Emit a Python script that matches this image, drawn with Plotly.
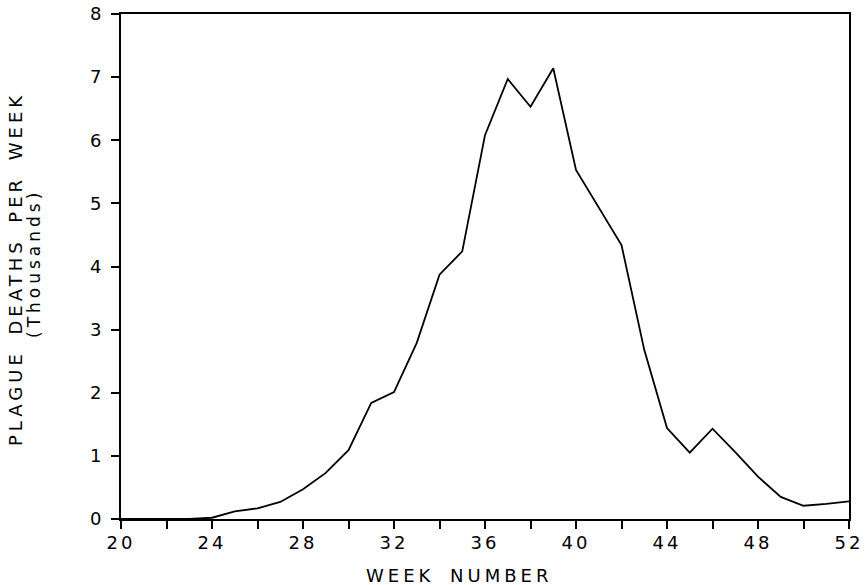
import plotly.graph_objects as go

weeks = list(range(20, 53))
deaths = [0.0, 0.0, 0.0, 0.0, 0.02, 0.12, 0.17, 0.27, 0.47, 0.73, 1.09,
          1.84, 2.01, 2.79, 3.87, 4.24, 6.08, 6.97, 6.53, 7.14, 5.53,
          4.93, 4.34, 2.68, 1.44, 1.05, 1.43, 1.06, 0.67, 0.35, 0.21,
          0.24, 0.28]

x_ticks = [20, 24, 28, 32, 36, 40, 44, 48, 52]
y_ticks = [0, 1, 2, 3, 4, 5, 6, 7, 8]

FONT = "DejaVu Sans"

fig = go.Figure()
fig.add_trace(go.Scatter(x=weeks, y=deaths, mode="lines",
                         line=dict(color="black", width=1.8), showlegend=False))

axis_common = dict(showgrid=False, zeroline=False, showline=True, linecolor="black",
                   linewidth=2, mirror=True, ticks="outside", ticklen=8, tickwidth=2,
                   tickcolor="black", automargin=False,
                   tickfont=dict(family=FONT, size=18, color="black"))

fig.update_xaxes(range=[20, 52], tickvals=x_ticks, ticktext=[str(v) for v in x_ticks],
                 minor=dict(dtick=2, tick0=20, ticks="outside", ticklen=8, tickwidth=2,
                            tickcolor="black"),
                 ticklabelstandoff=-2, **axis_common)
fig.update_yaxes(range=[0, 8], tickvals=y_ticks, ticktext=[str(v) for v in y_ticks],
                 ticklabelstandoff=6, **axis_common)

fig.add_annotation(text="WEEK NUMBER", xref="paper", yref="paper",
                   x=(459 - 121) / 728, y=(519 - 575) / 505, xanchor="center", yanchor="middle",
                   showarrow=False, font=dict(family=FONT, size=18, color="black"))
fig.add_annotation(text="PLAGUE DEATHS PER WEEK", xref="paper", yref="paper",
                   x=(15 - 121) / 728, y=(519 - 268) / 505, xanchor="center", yanchor="middle",
                   textangle=-90, showarrow=False, font=dict(family=FONT, size=18, color="black"))
fig.add_annotation(text="(Thousands)", xref="paper", yref="paper",
                   x=(34 - 121) / 728, y=(519 - 264) / 505, xanchor="center", yanchor="middle",
                   textangle=-90, showarrow=False, font=dict(family=FONT, size=17, color="black"))

fig.update_layout(width=866, height=585, plot_bgcolor="white", paper_bgcolor="white",
                  margin=dict(l=121, r=17, t=14, b=66))

post = """
document.querySelectorAll('.annotation-text').forEach(function(t){t.style.letterSpacing='4px'; t.style.wordSpacing='6px';});
document.querySelectorAll('.xtick text').forEach(function(t){t.style.letterSpacing='3px';});
"""
fig.write_html("out.html", post_script=post)
